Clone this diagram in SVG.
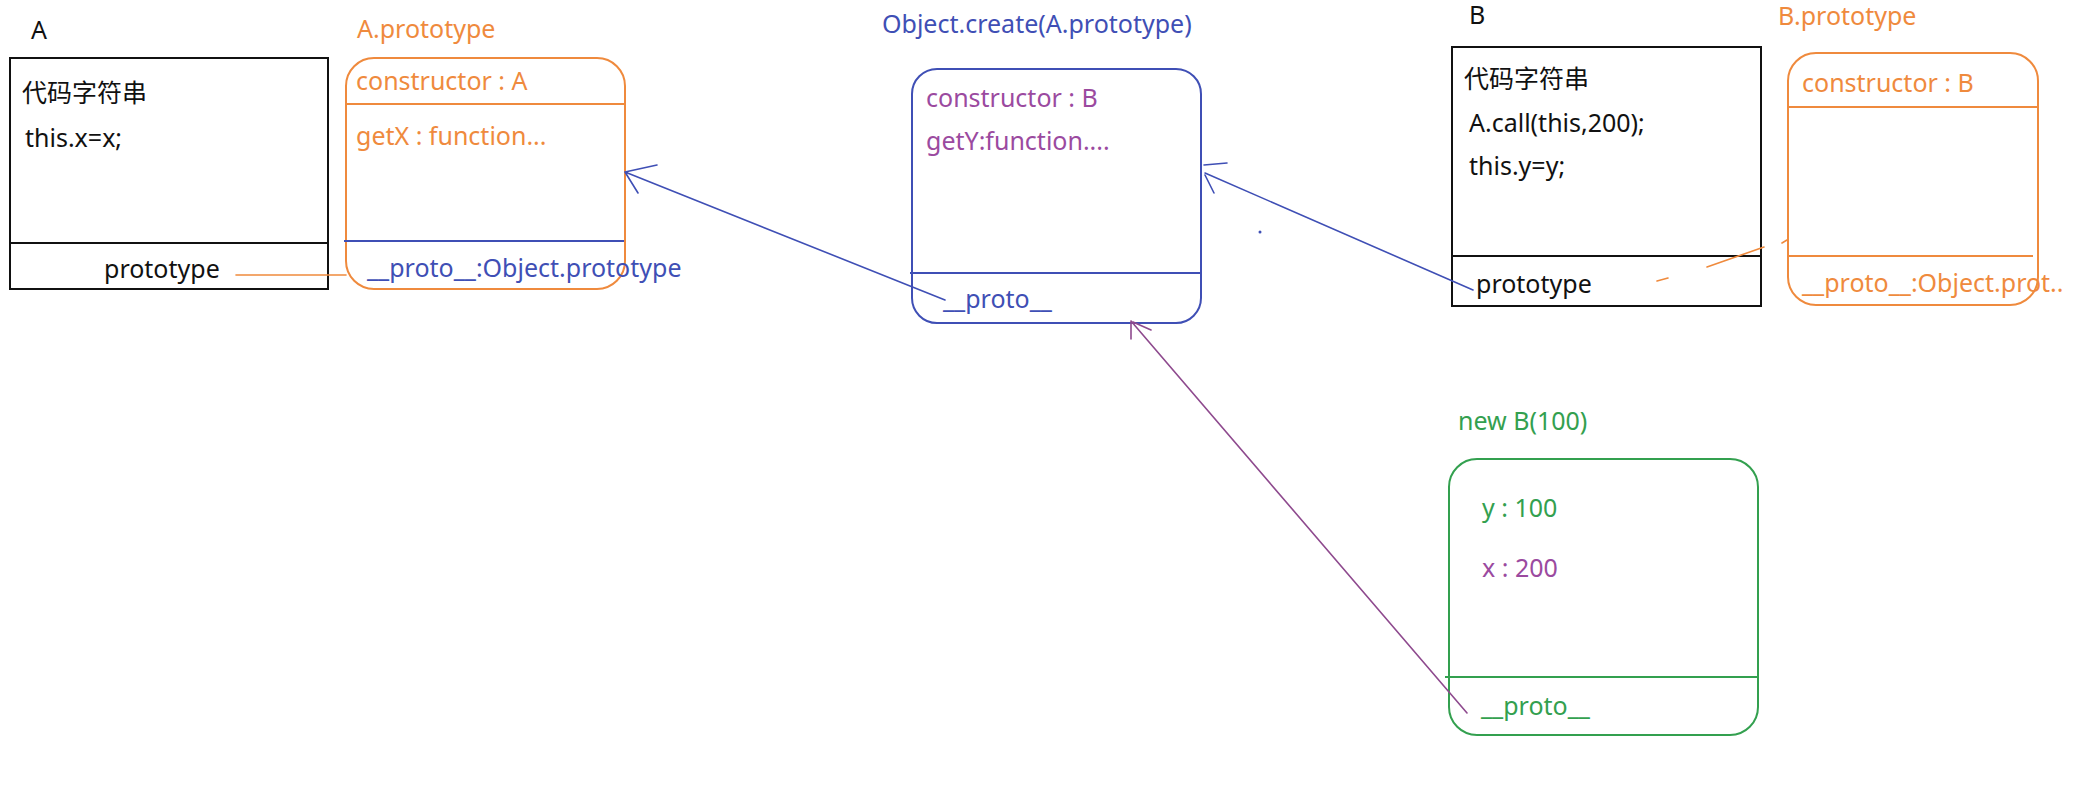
<svg xmlns="http://www.w3.org/2000/svg" width="2094" height="802" viewBox="0 0 2094 802">
<style>
text{font-family:"Noto Sans","Noto Sans CJK SC",sans-serif;font-size:25px}
.k{fill:#111}
.o{fill:#ef8a3d}
.b{fill:#3f4fb5}
.p{fill:#9b4a9f}
.g{fill:#33a04f}
.bx{fill:#fff;stroke:#111;stroke-width:2}
.ob{fill:#fff;stroke:#ef8a3d;stroke-width:2}
.bb{fill:#fff;stroke:#3f4fb5;stroke-width:2}
.gb{fill:#fff;stroke:#33a04f;stroke-width:2}
.ln{fill:none;stroke-width:1.6;stroke-linecap:round}
</style>
<rect width="2094" height="802" fill="#fff"/>

<g id="nodeA">
<text class="k" x="31" y="39">A</text>
<rect class="bx" x="10" y="58" width="318" height="231"/>
<line x1="10" y1="243" x2="328" y2="243" stroke="#111" stroke-width="2"/>
<text class="k" x="22" y="102">代码字符串</text>
<text class="k" x="25" y="147">this.x=x;</text>
<text class="k" x="104" y="278">prototype</text>
</g>

<g id="nodeAproto">
<text class="o" x="357" y="38">A.prototype</text>
<rect class="ob" x="346" y="58" width="279" height="231" rx="28"/>
<line x1="346" y1="104" x2="625" y2="104" stroke="#ef8a3d" stroke-width="2"/>
<line x1="344" y1="241" x2="624" y2="241" stroke="#3f4fb5" stroke-width="2"/>
<text class="o" x="356" y="90">constructor : A</text>
<text class="o" x="356" y="145">getX : function...</text>
<text class="b" x="367" y="277">__proto__:Object.prototype</text>
</g>

<g id="nodeObjCreate">
<text class="b" x="882" y="33">Object.create(A.prototype)</text>
<rect class="bb" x="912" y="69" width="289" height="254" rx="25"/>
<line x1="910" y1="273" x2="1201" y2="273" stroke="#3f4fb5" stroke-width="2"/>
<text class="p" x="926" y="107">constructor : B</text>
<text class="p" x="926" y="150">getY:function....</text>
<text class="b" x="943" y="308">__proto__</text>
</g>

<g id="nodeB">
<text class="k" x="1469" y="24">B</text>
<rect class="bx" x="1452" y="47" width="309" height="259"/>
<line x1="1452" y1="256" x2="1761" y2="256" stroke="#111" stroke-width="2"/>
<text class="k" x="1464" y="88">代码字符串</text>
<text class="k" x="1469" y="132">A.call(this,200);</text>
<text class="k" x="1469" y="175">this.y=y;</text>
<text class="k" x="1476" y="293">prototype</text>
</g>

<g id="nodeBproto">
<text class="o" x="1778" y="25">B.prototype</text>
<rect class="ob" x="1788" y="53" width="250" height="252" rx="28"/>
<line x1="1788" y1="107" x2="2039" y2="107" stroke="#ef8a3d" stroke-width="2"/>
<line x1="1788" y1="256" x2="2033" y2="256" stroke="#ef8a3d" stroke-width="2"/>
<text class="o" x="1802" y="92">constructor : B</text>
<text class="o" x="1802" y="292">__proto__:Object.prot..</text>
</g>

<g id="nodeNewB">
<text class="g" x="1458" y="430">new B(100)</text>
<rect class="gb" x="1449" y="459" width="309" height="276" rx="28"/>
<line x1="1445" y1="677" x2="1758" y2="677" stroke="#33a04f" stroke-width="2"/>
<text class="g" x="1482" y="517">y : 100</text>
<text class="p" x="1482" y="577">x : 200</text>
<text class="g" x="1481" y="715">__proto__</text>
</g>

<g id="connectors">
<line class="ln" x1="236" y1="275" x2="346" y2="275" stroke="#ef8a3d"/>
<path class="ln" stroke="#3f4fb5" d="M945 300 L625 172 M625 172 L657 165 M625 172 L638 193"/>
<path class="ln" stroke="#3f4fb5" d="M1473 290 L1205 173 M1227 163 L1204 165 M1205 175 L1214 193"/>
<circle cx="1260" cy="232" r="1.5" fill="#3f4fb5"/>
<path class="ln" stroke="#ef8a3d" d="M1657 281 L1668 278 M1707 267 L1764 247 M1782 243 L1787 240"/>
<path class="ln" stroke="#8e4a8e" d="M1467 713 L1131 321 M1131 321 L1131 339 M1133 322 L1151 330"/>
</g>
</svg>
